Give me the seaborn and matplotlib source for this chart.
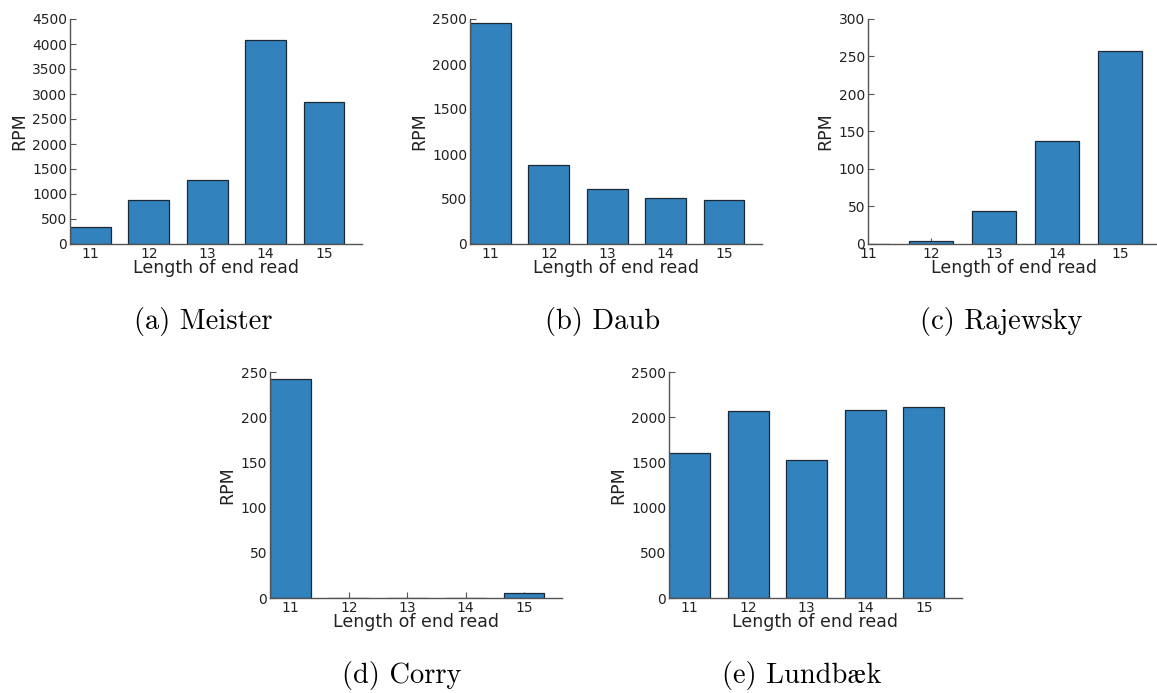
import matplotlib
matplotlib.use("Agg")
import matplotlib.pyplot as plt
import seaborn as sns
import pandas as pd

# Read lengths and reads-per-million per dataset
lengths = [11, 12, 13, 14, 15]
meister = [339, 879, 1278, 4087, 2842]
daub = [2459, 880, 610, 514, 492]
rajewsky = [0.3, 4, 44, 137, 257]
corry = [242, 0.3, 0.5, 0.5, 6]
lundbaek = [1600, 2072, 1530, 2076, 2113]

captions = ["(a) Meister", "(b) Daub", "(c) Rajewsky", "(d) Corry", "(e) Lundbæk"]
series = [meister, daub, rajewsky, corry, lundbaek]
ymax = [4500, 2500, 300, 250, 2500]
ystep = [500, 500, 50, 50, 500]

sns.set_style("white")
plt.rcParams["font.family"] = ["DejaVu Sans"]

W, H = 1157, 693
fig = plt.figure(figsize=(W / 100, H / 100), dpi=100)

# axes boxes in pixels: left, right, top, bottom
boxes = [
    (70, 362, 19, 244),
    (470, 762, 19, 244),
    (868, 1160, 19, 244),
    (270, 562, 372, 598),
    (669, 962, 372, 598),
]
# caption centres in pixels
cap_pos = [(203, 322), (603, 322), (1001, 322), (402, 676), (802, 676)]

bar_color = "#3182bd"
for i, (vals, cap) in enumerate(zip(series, captions)):
    l, r, t, b = boxes[i]
    ax = fig.add_axes([l / W, 1 - b / H, (r - l) / W, (b - t) / H])
    df = pd.DataFrame({"length": [str(v) for v in lengths], "rpm": vals})
    sns.barplot(data=df, x="length", y="rpm", ax=ax, color=bar_color,
                saturation=1, width=0.7, edgecolor="#1c2a36", linewidth=0.9)
    ax.set_ylim(0, ymax[i])
    ax.set_yticks(range(0, ymax[i] + 1, ystep[i]))
    if i == 2:
        ax.set_xlim(0, 4.63)
    else:
        ax.set_xlim(-0.35, 4.65)
    for side in ["top", "right"]:
        ax.spines[side].set_visible(False)
    for side in ["left", "bottom"]:
        ax.spines[side].set_color("#555555")
        ax.spines[side].set_linewidth(1.0)
    ax.tick_params(direction="in", length=4, width=0.8, color="#555555",
                   labelsize=10, labelcolor="#222222", pad=2,
                   left=True, bottom=True)
    ax.set_xlabel("Length of end read", fontsize=12.5, color="#222222", labelpad=-1)
    ax.set_ylabel("RPM", fontsize=12.5, color="#222222", labelpad=3)
    cx, cy = cap_pos[i]
    fig.text(cx / W, 1 - cy / H, cap, ha="center", va="center", color="black",
             fontsize=20.5, family=["cmr10", "STIXGeneral"])

fig.savefig("out.png", dpi=100)
